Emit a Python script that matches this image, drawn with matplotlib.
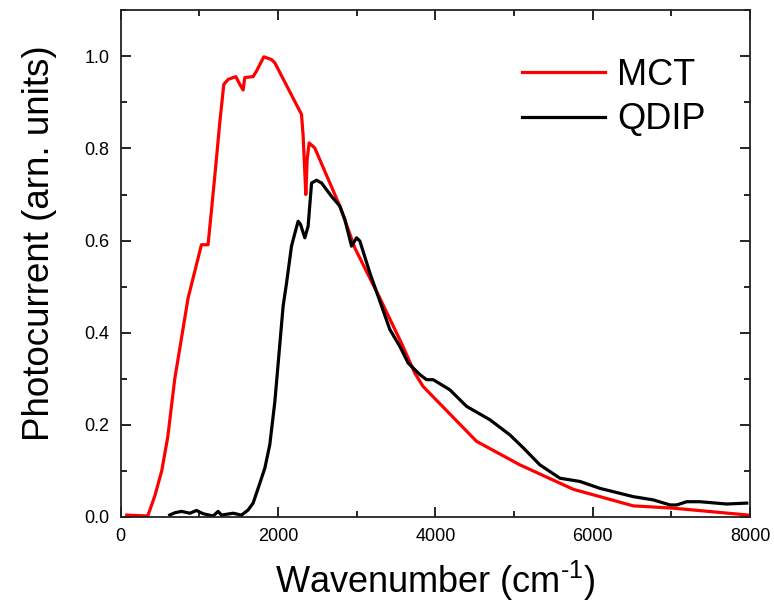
import matplotlib
matplotlib.use("Agg")
import matplotlib.pyplot as plt
from matplotlib.ticker import MultipleLocator

plt.rcParams['font.family'] = ['Liberation Sans', 'DejaVu Sans']
plt.rcParams['mathtext.fontset'] = 'custom'
plt.rcParams['mathtext.rm'] = 'Liberation Sans'

# MCT reference detector spectrum
mct_x = [76, 343, 432, 521, 598, 687, 856, 1026, 1110, 1154, 1208, 1259, 1310, 1365, 1463,
         1514, 1556, 1577, 1683, 1726, 1819, 1917, 1959, 2298, 2319, 2353, 2370, 2395, 2467,
         2785, 2976, 3294, 3570, 3739, 3845, 4524, 5075, 5753, 6516, 7025, 7979]
mct_y = [0.004, 0.002, 0.045, 0.10, 0.174, 0.30, 0.475, 0.591, 0.591, 0.667, 0.762, 0.856, 0.939, 0.95, 0.956,
         0.939, 0.927, 0.954, 0.956, 0.968, 0.999, 0.993, 0.986, 0.874, 0.827, 0.70, 0.776, 0.812, 0.801,
         0.675, 0.584, 0.475, 0.377, 0.312, 0.283, 0.164, 0.113, 0.060, 0.024, 0.019, 0.004]

# QDIP spectrum
qdip_x = [623, 687, 772, 878, 963, 1047, 1174, 1238, 1281, 1428, 1535, 1619, 1683, 1768, 1832,
          1895, 1959, 2064, 2108, 2171, 2192, 2255, 2286, 2340, 2382, 2426, 2489, 2553, 2680,
          2785, 2849, 2934, 2998, 3040, 3167, 3421, 3549, 3654, 3803, 3888, 3972, 4184, 4397,
          4693, 4948, 5117, 5329, 5584, 5838, 6092, 6516, 6770, 6983, 7068, 7195, 7365, 7704, 7958]
qdip_y = [0.004, 0.009, 0.012, 0.008, 0.014, 0.007, 0.002, 0.012, 0.004, 0.008, 0.004, 0.015, 0.03, 0.073, 0.106,
          0.157, 0.25, 0.457, 0.508, 0.588, 0.602, 0.642, 0.635, 0.606, 0.631, 0.725, 0.731, 0.725, 0.696,
          0.675, 0.646, 0.588, 0.606, 0.599, 0.53, 0.407, 0.37, 0.334, 0.309, 0.298, 0.298, 0.276, 0.24,
          0.211, 0.178, 0.15, 0.113, 0.084, 0.077, 0.062, 0.044, 0.037, 0.026, 0.026, 0.033, 0.033, 0.028, 0.03]

fig = plt.figure(figsize=(7.74, 6.06), dpi=100)
ax = fig.add_axes([0.156, 0.147, 0.813, 0.836])  # [left, bottom, width, height]

ax.plot(mct_x, mct_y, color='#ff0000', lw=2.3, label='MCT')
ax.plot(qdip_x, qdip_y, color='black', lw=2.3, label='QDIP')

ax.set_xlim(0, 8000)
ax.set_ylim(0, 1.1)
ax.xaxis.set_major_locator(MultipleLocator(2000))
ax.xaxis.set_minor_locator(MultipleLocator(1000))
ax.yaxis.set_major_locator(MultipleLocator(0.2))
ax.yaxis.set_minor_locator(MultipleLocator(0.1))
ax.tick_params(which='both', direction='in', top=True, right=True, labelsize=13, width=1.2, pad=8)
ax.tick_params(which='major', length=7)
ax.tick_params(which='minor', length=4)
for s in ax.spines.values():
    s.set_linewidth(1.3)
    s.set_color('#222222')

ax.set_xlabel('Wavenumber (cm$^{\\text{-1}}$)', fontsize=26, labelpad=10)
ax.set_ylabel('Photocurrent (arn. units)', fontsize=26.5, labelpad=20)
ax.yaxis.label.set_y(0.54)

ax.legend(loc='upper left', bbox_to_anchor=(0.609, 0.942), frameon=False, fontsize=26,
          borderpad=0, handlelength=2.3, handletextpad=0.33, labelspacing=0.27)

fig.savefig('out.png', dpi=100)
